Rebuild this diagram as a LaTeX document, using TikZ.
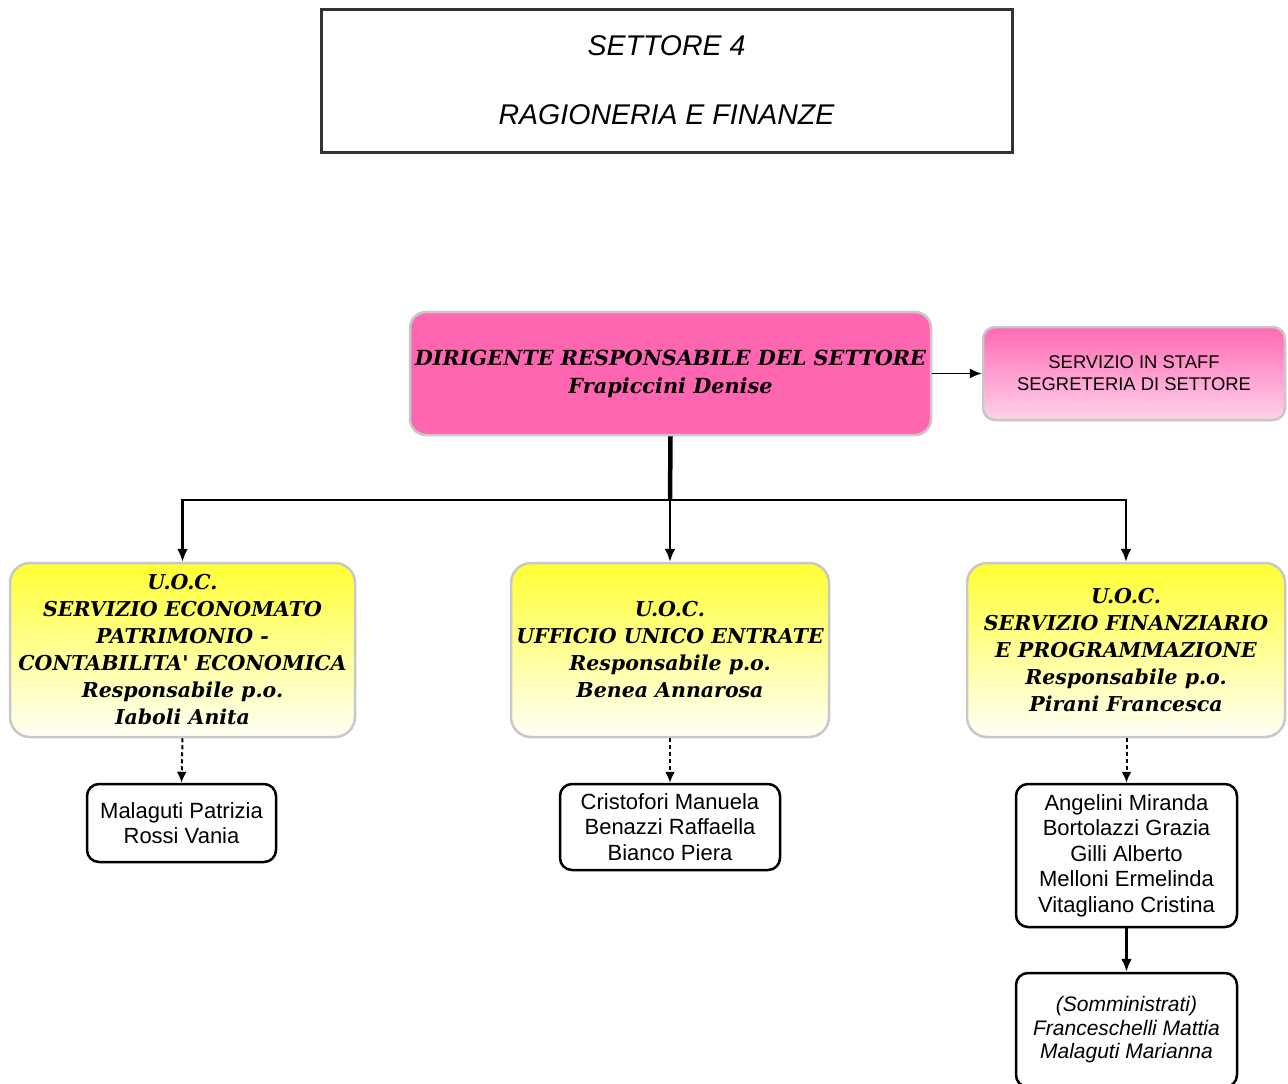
\documentclass[tikz,border=0pt]{standalone}
\usepackage{fontspec}
\setmainfont{Liberation Sans}
\newfontfamily\djs{DejaVu Serif}
\usetikzlibrary{arrows.meta}
\definecolor{dirpink}{HTML}{FF66B2}
\definecolor{stafftop}{HTML}{FF69B4}
\definecolor{staffbot}{HTML}{FFD2EA}
\definecolor{uoctop}{HTML}{FFFF33}
\definecolor{uocbot}{HTML}{FFFFF6}
\definecolor{softedge}{HTML}{C8C8C8}
\begin{document}
\begin{tikzpicture}[x=1pt,y=-1pt,
  titlebox/.style={draw=black!80, line width=3pt, fill=white, inner sep=0pt, align=center,
    minimum width=691pt, minimum height=143pt,
    font=\itshape\fontsize{28.5}{69}\selectfont},
  dirbox/.style={draw=softedge, line width=2.5pt, fill=dirpink, rounded corners=16pt,
    inner sep=0pt, align=center, minimum width=521pt, minimum height=123pt,
    font=\djs\bfseries\itshape\fontsize{20.8}{28}\selectfont},
  staffbox/.style={draw=softedge, line width=2.5pt, top color=stafftop, bottom color=staffbot,
    rounded corners=12pt, inner sep=0pt, align=center, minimum width=302pt, minimum height=93pt,
    font=\fontsize{18.4}{22}\selectfont},
  uocbox/.style={draw=softedge, line width=2.5pt, top color=uoctop, bottom color=uocbot,
    rounded corners=20pt, inner sep=0pt, align=center, minimum height=174pt,
    font=\djs\bfseries\itshape\fontsize{20.5}{27}\selectfont},
  peoplebox/.style={draw=black, line width=2.5pt, fill=white, rounded corners=12pt,
    inner sep=0pt, align=center, font=\fontsize{22}{25.5}\selectfont},
  link/.style={line width=2.5pt, -{Latex[length=13pt,width=11pt]}},
  dashlink/.style={line width=2pt, dash pattern=on 4pt off 3pt, -{Latex[length=11pt,width=10pt]}}
]
\useasboundingbox (0,0) rectangle (1288,1084);

\node[titlebox] (title) at (666.5,80.5) {SETTORE 4\\RAGIONERIA E FINANZE};

\node[dirbox] (dir) at (670.5,373.5) {DIRIGENTE RESPONSABILE DEL SETTORE\\Frapiccini Denise};
\node[staffbox] (staff) at (1134,373.5) {SERVIZIO IN STAFF\\SEGRETERIA DI SETTORE};

\node[uocbox, minimum width=345pt] (u1) at (182.5,650)
  {U.O.C.\\SERVIZIO ECONOMATO\\PATRIMONIO -\\CONTABILITA' ECONOMICA\\Responsabile p.o.\\Iaboli Anita};
\node[uocbox, minimum width=318pt] (u2) at (670,650)
  {U.O.C.\\UFFICIO UNICO ENTRATE\\Responsabile p.o.\\Benea Annarosa};
\node[uocbox, minimum width=318pt] (u3) at (1126,650)
  {U.O.C.\\SERVIZIO FINANZIARIO\\E PROGRAMMAZIONE\\Responsabile p.o.\\Pirani Francesca};

\node[peoplebox, minimum width=189pt, minimum height=78pt] (p1) at (181.5,823)
  {Malaguti Patrizia\\Rossi Vania};
\node[peoplebox, minimum width=220pt, minimum height=86pt] (p2) at (670,827)
  {Cristofori Manuela\\Benazzi Raffaella\\Bianco Piera};
\node[peoplebox, minimum width=221pt, minimum height=143pt] (p3) at (1126.5,855.5)
  {Angelini Miranda\\Bortolazzi Grazia\\Gilli Alberto\\Melloni Ermelinda\\Vitagliano Cristina};
\node[peoplebox, minimum width=221pt, minimum height=114pt,
      font=\itshape\fontsize{21}{23.5}\selectfont] (p4) at (1126.5,1030)
  {(Somministrati)\\Franceschelli Mattia\\Malaguti Marianna};

\coordinate (bus) at (670,500);
\draw[line width=1.8pt, -{Latex[length=12pt,width=10pt]}] (dir.east) -- (staff.west);
\draw[line width=4.5pt] (dir.south) -- (bus);
\draw[link] (bus) -| (u1.north);
\draw[link] (bus) -- (u2.north);
\draw[link] (bus) -| (u3.north);

\draw[dashlink] (u1.south) -- (p1.north);
\draw[dashlink] (u2.south) -- (p2.north);
\draw[dashlink] (u3.south -| p3.north) -- (p3.north);
\draw[link] (p3.south) -- (p4.north);
\end{tikzpicture}
\end{document}
